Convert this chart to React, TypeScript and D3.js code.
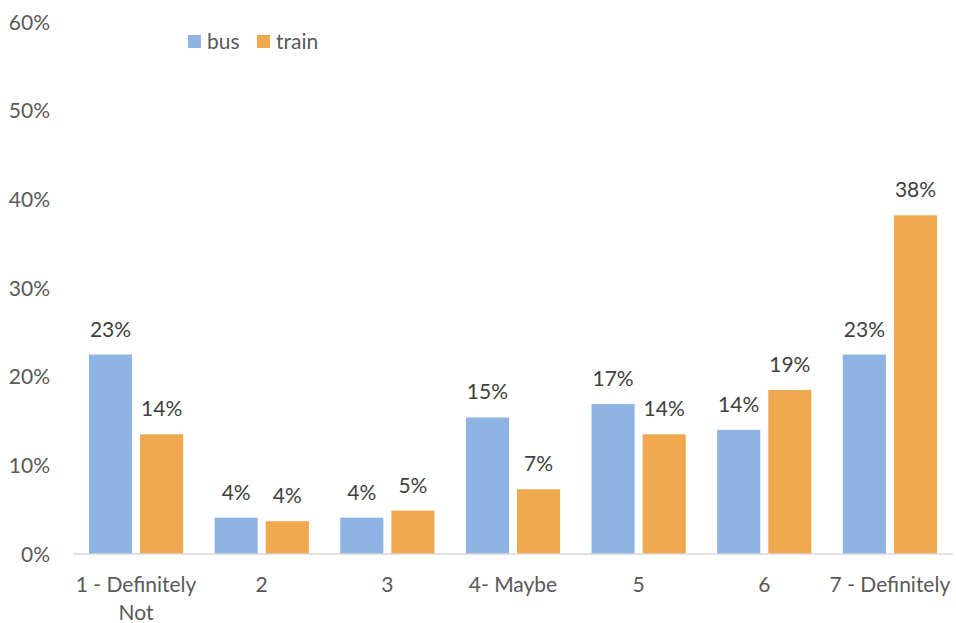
import React from "react";
import * as d3 from "d3";

const categories = ["1 - Definitely Not", "2", "3", "4- Maybe", "5", "6", "7 - Definitely"];
const busValues = [22.5, 4.1, 4.1, 15.4, 16.9, 14.0, 22.5];
const trainValues = [13.5, 3.7, 4.9, 7.3, 13.5, 18.5, 38.2];
const seriesNames = ["bus", "train"];
const seriesColors = ["#8EB4E3", "#F0A84E"];
const yTicks = [0, 10, 20, 30, 40, 50, 60];

const W = 956;
const H = 623;
const FONT = "Lato, 'Open Sans', sans-serif";

export default function App() {
  const margin = { left: 73, right: 3, top: 22, bottom: 69 };
  const x = d3.scaleBand<string>().domain(categories).range([margin.left, W - margin.right]).paddingInner(0.25).paddingOuter(0.127);
  const y = d3.scaleLinear().domain([0, 60]).range([H - margin.bottom, margin.top]);
  const x1 = d3.scaleBand<string>().domain(seriesNames).range([0, x.bandwidth()]).paddingInner(0.157);
  const series = [busValues, trainValues];

  const wrap = (s: string) => {
    if (s === "1 - Definitely Not") return ["1 - Definitely", "Not"];
    return [s];
  };

  return (
    <svg width={W} height={H} style={{ position: "absolute", left: 0, top: 0, background: "#fff" }} fontFamily={FONT}>
      {yTicks.map((t) => (
        <text key={t} x={50} y={y(t) + 7.5} textAnchor="end" fontSize={21} fill="#595959">
          {t}%
        </text>
      ))}
      {categories.map((c, i) => (
        <g key={c}>
          {series.map((vals, si) => {
            const bx = (x(c) as number) + (x1(seriesNames[si]) as number);
            const bw = x1.bandwidth();
            const v = vals[i];
            return (
              <g key={si}>
                <rect x={bx} y={y(v)} width={bw} height={y(0) - y(v)} fill={seriesColors[si]} />
                <text x={bx + bw / 2} y={y(v) - 18} textAnchor="middle" fontSize={21} fill="#404040">
                  {Math.round(v)}%
                </text>
              </g>
            );
          })}
          {wrap(c).map((line, li) => (
            <text key={li} x={(x(c) as number) + x.bandwidth() / 2} y={y(0) + 38 + li * 28} textAnchor="middle" fontSize={21} fill="#595959">
              {line}
            </text>
          ))}
        </g>
      ))}
      <line x1={margin.left} x2={W - margin.right} y1={y(0)} y2={y(0)} stroke="#D9D9D9" strokeWidth={1.5} />
      {seriesNames.map((n, i) => {
        const lx = [188, 257][i];
        return (
          <g key={n}>
            <rect x={lx} y={35} width={13} height={13} fill={seriesColors[i]} />
            <text x={lx + 19} y={49} fontSize={21} fill="#595959">
              {n}
            </text>
          </g>
        );
      })}
    </svg>
  );
}
